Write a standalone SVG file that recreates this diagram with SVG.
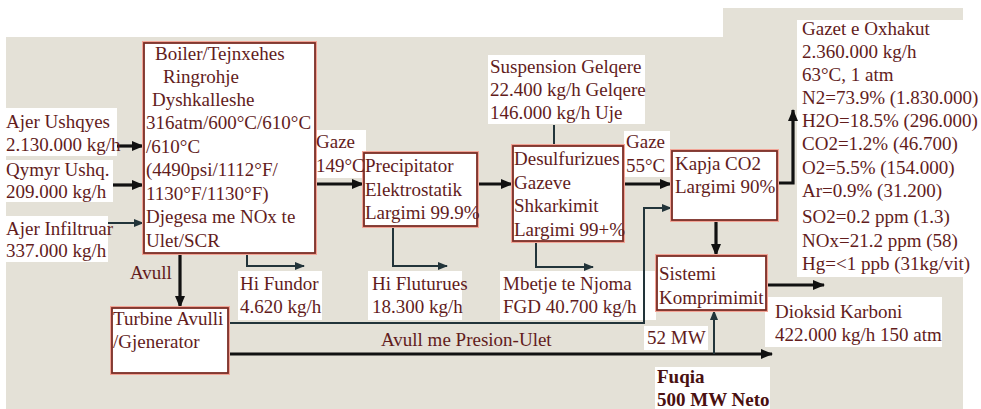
<svg xmlns="http://www.w3.org/2000/svg" width="981" height="409" viewBox="0 0 981 409">
  <defs>
    <style>
      .t { font-family: "Liberation Serif", "Times New Roman", serif; font-size: 19px; fill: #621c1c; }
      .b { font-weight: bold; fill: #4a1010; }
      .lbl { fill: #ffffff; }
      .halo { fill: none; stroke: #f2a496; stroke-width: 4; }
      .box { fill: #ffffff; stroke: #7a2e26; stroke-width: 1.8; }
      .thick { fill: none; stroke: #111111; stroke-width: 3.2; }
      .thin { fill: none; stroke: #22343a; stroke-width: 2; }
    </style>
    <marker id="ah" markerUnits="userSpaceOnUse" markerWidth="12" markerHeight="10" refX="11" refY="5" orient="auto">
      <path d="M0,0 L12,5 L0,10 z" fill="#111111"/>
    </marker>
    <marker id="ahs" markerUnits="userSpaceOnUse" markerWidth="10" markerHeight="8" refX="9" refY="4" orient="auto">
      <path d="M0,0 L10,4 L0,8 z" fill="#22343a"/>
    </marker>
  </defs>

  <!-- page background -->
  <rect width="981" height="409" fill="#ffffff"/>
  <path d="M6,37 H723 V8 H963 V409 H6 Z" fill="#e4e1d7"/>

  <!-- white label panels -->
  <g id="label-panels">
    <rect class="lbl" x="6" y="108" width="111" height="48"/>
    <rect class="lbl" x="6" y="160" width="107" height="42"/>
    <rect class="lbl" x="6" y="216" width="102" height="46"/>
    <rect class="lbl" x="316" y="130" width="50" height="48"/>
    <rect class="lbl" x="238" y="271" width="84" height="49"/>
    <rect class="lbl" x="368" y="271" width="94" height="49"/>
    <rect class="lbl" x="500" y="271" width="156" height="49"/>
    <rect class="lbl" x="488" y="55" width="157" height="69"/>
    <rect class="lbl" x="624" y="131" width="46" height="46"/>
    <rect class="lbl" x="797" y="20" width="184" height="257"/>
    <rect class="lbl" x="765" y="297" width="177" height="50"/>
    <rect class="lbl" x="644" y="326" width="64" height="24"/>
    <rect class="lbl" x="655" y="367" width="115" height="42"/>
  </g>

  <!-- connectors -->
  <g id="connectors">
    <path class="thick" d="M117,146 H143" marker-end="url(#ah)"/>
    <path class="thick" d="M113,185 H143" marker-end="url(#ah)"/>
    <path class="thin" d="M108,223 H143" marker-end="url(#ahs)"/>
    <path class="thick" d="M315,184 H363" marker-end="url(#ah)"/>
    <path class="thick" d="M477,184 H512" marker-end="url(#ah)"/>
    <path class="thick" d="M623,184 H671" marker-end="url(#ah)"/>
    <path class="thin" d="M554,125 V146"/>
    <path class="thick" d="M180,253 V307" marker-end="url(#ah)"/>
    <path class="thin" d="M247,253 V266 H304" marker-end="url(#ahs)"/>
    <path class="thin" d="M393,226 V266 H447" marker-end="url(#ahs)"/>
    <path class="thin" d="M536,241 V267 H593" marker-end="url(#ahs)"/>
    <path class="thin" d="M228,323 H644 V208 H671" marker-end="url(#ahs)"/>
    <path class="thick" d="M228,354 H772" marker-end="url(#ah)"/>
    <path class="thin" d="M714,354 V311" marker-end="url(#ahs)"/>
    <path class="thick" d="M716,220 V255" marker-end="url(#ah)"/>
    <path class="thick" d="M766,285 H824" marker-end="url(#ah)"/>
    <path class="thick" d="M777,183 H793 V110" marker-end="url(#ah)"/>
  </g>

  <!-- process units -->
  <g id="boiler">
    <rect class="halo" x="144" y="43" width="171" height="210"/>
    <rect class="box" x="144" y="43" width="171" height="210"/>
    <text class="t" x="155" y="60">Boiler/Tejnxehes</text>
    <text class="t" x="163" y="83">Ringrohje</text>
    <text class="t" x="152" y="106">Dyshkalleshe</text>
    <text class="t" x="146" y="129">316atm/600°C/610°C</text>
    <text class="t" x="146" y="153">/610°C</text>
    <text class="t" x="146" y="176">(4490psi/1112°F/</text>
    <text class="t" x="146" y="200">1130°F/1130°F)</text>
    <text class="t" x="146" y="223">Djegesa me NOx te</text>
    <text class="t" x="146" y="247">Ulet/SCR</text>
  </g>

  <g id="precipitator">
    <rect class="halo" x="364" y="153" width="113" height="73"/>
    <rect class="box" x="364" y="153" width="113" height="73"/>
    <text class="t" x="365" y="172">Precipitator</text>
    <text class="t" x="365" y="196">Elektrostatik</text>
    <text class="t" x="365" y="219">Largimi 99.9%</text>
  </g>

  <g id="desulfurizer">
    <rect class="halo" x="513" y="146" width="110" height="95"/>
    <rect class="box" x="513" y="146" width="110" height="95"/>
    <text class="t" x="514" y="165">Desulfurizues</text>
    <text class="t" x="514" y="189">Gazeve</text>
    <text class="t" x="514" y="212">Shkarkimit</text>
    <text class="t" x="514" y="236">Largimi 99+%</text>
  </g>

  <g id="co2-capture">
    <rect class="halo" x="672" y="151" width="105" height="69"/>
    <rect class="box" x="672" y="151" width="105" height="69"/>
    <text class="t" x="675" y="170">Kapja CO2</text>
    <text class="t" x="675" y="193">Largimi 90%</text>
  </g>

  <g id="compressor">
    <rect class="halo" x="657" y="256" width="109" height="54"/>
    <rect class="box" x="657" y="256" width="109" height="54"/>
    <text class="t" x="659" y="280">Sistemi</text>
    <text class="t" x="659" y="304">Komprimimit</text>
  </g>

  <g id="turbine">
    <rect class="halo" x="112" y="308" width="116" height="65"/>
    <rect class="box" x="112" y="308" width="116" height="65"/>
    <text class="t" x="113" y="325">Turbine Avulli</text>
    <text class="t" x="113" y="348">/Gjenerator</text>
  </g>

  <!-- stream labels -->
  <g id="feed-air">
    <text class="t" x="6" y="128">Ajer Ushqyes</text>
    <text class="t" x="6" y="151">2.130.000 kg/h</text>
  </g>
  <g id="feed-coal">
    <text class="t" x="6" y="176">Qymyr Ushq.</text>
    <text class="t" x="6" y="198">209.000 kg/h</text>
  </g>
  <g id="infiltration-air">
    <text class="t" x="6" y="235">Ajer Infiltruar</text>
    <text class="t" x="6" y="257">337.000 kg/h</text>
  </g>
  <g id="gas-149">
    <text class="t" x="316" y="148">Gaze</text>
    <text class="t" x="316" y="172">149°C</text>
  </g>
  <g id="steam">
    <text class="t" x="130" y="279">Avull</text>
  </g>
  <g id="bottom-ash">
    <text class="t" x="240" y="290">Hi Fundor</text>
    <text class="t" x="240" y="313">4.620 kg/h</text>
  </g>
  <g id="fly-ash">
    <text class="t" x="372" y="290">Hi Fluturues</text>
    <text class="t" x="372" y="313">18.300 kg/h</text>
  </g>
  <g id="fgd-waste">
    <text class="t" x="503" y="290">Mbetje te Njoma</text>
    <text class="t" x="503" y="313">FGD 40.700 kg/h</text>
  </g>
  <g id="limestone">
    <text class="t" x="490" y="73">Suspension Gelqere</text>
    <text class="t" x="490" y="96">22.400 kg/h Gelqere</text>
    <text class="t" x="490" y="119">146.000 kg/h Uje</text>
  </g>
  <g id="gas-55">
    <text class="t" x="626" y="148">Gaze</text>
    <text class="t" x="626" y="172">55°C</text>
  </g>
  <g id="stack-gas">
    <text class="t" x="802" y="35">Gazet e Oxhakut</text>
    <text class="t" x="802" y="58">2.360.000 kg/h</text>
    <text class="t" x="802" y="81">63°C, 1 atm</text>
    <text class="t" x="802" y="104">N2=73.9% (1.830.000)</text>
    <text class="t" x="802" y="127">H2O=18.5% (296.000)</text>
    <text class="t" x="802" y="150">CO2=1.2% (46.700)</text>
    <text class="t" x="802" y="174">O2=5.5% (154.000)</text>
    <text class="t" x="802" y="197">Ar=0.9% (31.200)</text>
    <text class="t" x="802" y="223">SO2=0.2 ppm (1.3)</text>
    <text class="t" x="802" y="247">NOx=21.2 ppm (58)</text>
    <text class="t" x="802" y="270">Hg=&lt;1 ppb (31kg/vit)</text>
  </g>
  <g id="co2-product">
    <text class="t" x="775" y="318">Dioksid Karboni</text>
    <text class="t" x="775" y="341">422.000 kg/h 150 atm</text>
  </g>
  <g id="lp-steam">
    <text class="t" x="381" y="346">Avull me Presion-Ulet</text>
  </g>
  <g id="aux-power">
    <text class="t" x="647" y="344">52 MW</text>
  </g>
  <g id="net-power">
    <text class="t b" x="657" y="383">Fuqia</text>
    <text class="t b" x="657" y="406">500 MW Neto</text>
  </g>
</svg>
